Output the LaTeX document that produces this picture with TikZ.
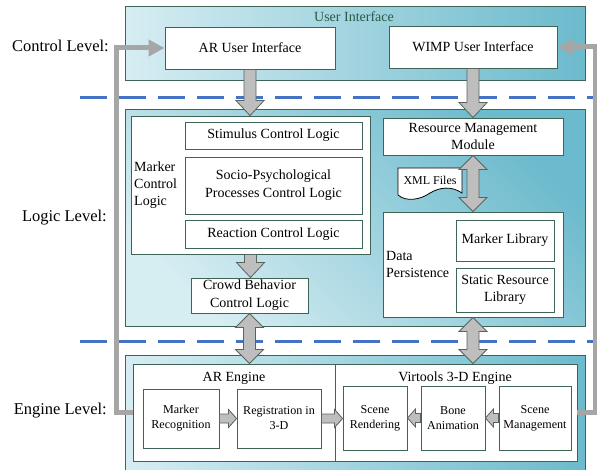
\documentclass[tikz,border=0pt]{standalone}
\usepackage{fontspec}
\setmainfont{Liberation Serif}
\usepackage{xcolor}
\usepackage{tikz}
\usetikzlibrary{arrows.meta,calc}

\definecolor{bordc}{RGB}{62,100,84}
\definecolor{lblc}{RGB}{40,90,70}
\definecolor{panL}{RGB}{214,237,242}
\definecolor{panR}{RGB}{108,186,205}
\definecolor{arrfill}{RGB}{190,190,190}
\definecolor{arrdraw}{RGB}{88,100,94}
\definecolor{fbgray}{RGB}{166,166,166}
\definecolor{sepblue}{RGB}{68,114,196}

\tikzset{
	panel/.style={draw=bordc, line width=1pt, inner sep=0pt},
	box/.style={draw=bordc, fill=white, line width=0.9pt, inner sep=0pt, align=center, font=\fontsize{14}{17.7}\selectfont},
	ebox/.style={box, font=\fontsize{12.1}{15}\selectfont},
	lbl/.style={inner sep=0pt, font=\fontsize{14}{16.7}\selectfont},
	levellbl/.style={inner sep=0pt, anchor=east, font=\fontsize{16.5}{19}\selectfont},
	blkarrow/.style={draw=arrdraw, fill=arrfill, line width=0.8pt, line join=miter},
	fbline/.style={draw=fbgray, line width=5pt, -{Triangle[length=16pt,width=16pt]}},
	levelsep/.style={draw=sepblue, line width=3pt, dash pattern=on 27pt off 12pt},
}

% block arrows, x taken from the first point
\newcommand{\bigdown}[2]{%
	\draw[blkarrow] let \p1=(#1), \p2=(#2) in
		(\x1-6pt,\y1) -- (\x1-6pt,\y2+15pt) -- (\x1-14pt,\y2+15pt) -- (\x1,\y2)
		-- (\x1+14pt,\y2+15pt) -- (\x1+6pt,\y2+15pt) -- (\x1+6pt,\y1) -- cycle;}
\newcommand{\bigboth}[2]{%
	\draw[blkarrow] let \p1=(#1), \p2=(#2) in
		(\x1,\y1) -- (\x1+14pt,\y1-14pt) -- (\x1+6pt,\y1-14pt) -- (\x1+6pt,\y2+14pt)
		-- (\x1+14pt,\y2+14pt) -- (\x1,\y2) -- (\x1-14pt,\y2+14pt) -- (\x1-6pt,\y2+14pt)
		-- (\x1-6pt,\y1-14pt) -- (\x1-14pt,\y1-14pt) -- cycle;}
\newcommand{\smallright}[2]{%
	\draw[blkarrow] let \p1=(#1), \p2=(#2) in
		(\x1,\y1+4.5pt) -- (\x2-8pt,\y1+4.5pt) -- (\x2-8pt,\y1+9pt) -- (\x2,\y1)
		-- (\x2-8pt,\y1-9pt) -- (\x2-8pt,\y1-4.5pt) -- (\x1,\y1-4.5pt) -- cycle;}
\newcommand{\smallleft}[2]{%
	\draw[blkarrow] let \p1=(#1), \p2=(#2) in
		(\x1,\y1+4.5pt) -- (\x2+8pt,\y1+4.5pt) -- (\x2+8pt,\y1+9pt) -- (\x2,\y1)
		-- (\x2+8pt,\y1-9pt) -- (\x2+8pt,\y1-4.5pt) -- (\x1,\y1-4.5pt) -- cycle;}

\begin{document}
\begin{tikzpicture}[x=1pt, y=-1pt]
		\useasboundingbox (0,0) rectangle (597,470);

		% control level
		\node[panel, left color=panL, right color=panR, minimum width=460, minimum height=74] (uipanel) at (355,44) {};
		\node[lbl, text=lblc] (uilbl) at (354,17) {User Interface};
		\node[box, minimum width=170, minimum height=42] (ari) at (250,48) {AR User Interface};
		\node[box, minimum width=168, minimum height=42] (wimp) at (473,47) {WIMP User Interface};

		% logic level
		\node[panel, top color=panR, bottom color=panL, shading angle=-45, minimum width=460, minimum height=217] (logicpanel) at (355,218.5) {};
		\node[box, minimum width=239, minimum height=138] (mcl) at (250.5,185) {};
		\node[lbl, anchor=west, align=left] (mcllbl) at (134,185) {Marker\\Control\\Logic};
		\node[box, minimum width=177, minimum height=27] (stim) at (273.5,135.5) {Stimulus Control Logic};
		\node[box, minimum width=177, minimum height=57] (socio) at (273.5,185.5) {Socio-Psychological\\Processes Control Logic};
		\node[box, minimum width=177, minimum height=28] (react) at (273.5,234) {Reaction Control Logic};
		\node[box, minimum width=117, minimum height=35] (crowd) at (249.5,295.5) {Crowd Behavior\\Control Logic};
		\node[box, minimum width=180, minimum height=37] (rmm) at (473,136.5) {Resource Management\\Module};
		\node[box, minimum width=180, minimum height=105] (dp) at (473,264.5) {};
		\node[lbl, anchor=west, align=left] (dplbl) at (386,264.5) {Data\\Persistence};
		\node[box, minimum width=98, minimum height=41] (mlib) at (505,240.5) {Marker Library};
		\node[box, minimum width=98, minimum height=44] (slib) at (505,290) {Static Resource\\Library};
		\draw[black, fill=white, line width=0.8pt] (398,168) -- (462,168) -- (462,193)
			.. controls (452,186) and (440,187) .. (430,193)
			.. controls (420,200) and (406,202) .. (398,195) -- cycle;
		\node[inner sep=0pt, font=\fontsize{12}{14}\selectfont] (xml) at (430,180) {XML Files};

		% engine level
		\node[panel, left color=panL, right color=panR, minimum width=460, minimum height=135] (engpanel) at (355,422.5) {};
		\node[box, minimum width=202, minimum height=97] (are) at (234,412.5) {};
		\node[box, minimum width=242, minimum height=97] (vte) at (456,412.5) {};
		\node[lbl] (arelbl) at (234,378) {AR Engine};
		\node[lbl] (vtelbl) at (455,378) {Virtools 3-D Engine};
		\node[ebox, minimum width=76, minimum height=59] (mrec) at (181,418.5) {Marker\\Recognition};
		\node[ebox, minimum width=84, minimum height=59] (reg) at (279,418.5) {Registration in\\3-D};
		\node[ebox, minimum width=64, minimum height=64] (srend) at (375,418) {Scene\\Rendering};
		\node[ebox, minimum width=64, minimum height=64] (bone) at (453,418) {Bone\\Animation};
		\node[ebox, minimum width=72, minimum height=64] (smgmt) at (535,418) {Scene\\Management};

		% level labels and separators
		\node[levellbl] (ctrllvl) at (109,46) {Control Level:};
		\node[levellbl] (logiclvl) at (107,218) {Logic Level:};
		\node[levellbl] (englvl) at (107,411) {Engine Level:};
		\draw[levelsep] (80,97.5) -- (597,97.5);
		\draw[levelsep] (80,341.5) -- (597,341.5);

		% connections
		\bigdown{ari.south}{mcl.north}
		\bigdown{wimp.south}{rmm.north}
		\bigdown{mcl.south}{crowd.north}
		\bigboth{rmm.south}{dp.north}
		\bigboth{crowd.south}{are.north}
		\bigboth{dp.south}{vte.north}
		\smallright{mrec.east}{reg.west}
		\smallright{reg.east}{srend.west}
		\smallleft{bone.west}{srend.east}
		\smallleft{smgmt.west}{bone.east}
		\draw[fbline] (are.west) -- ++(-16,0) |- (ari.west);
		\draw[fbline] (vte.east) -- ++(18,0) |- (wimp.east);
	\end{tikzpicture}
\end{document}
